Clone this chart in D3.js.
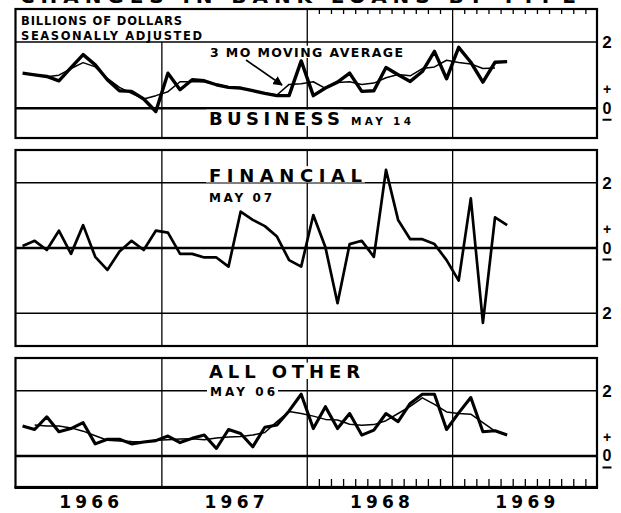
<!DOCTYPE html>
<html>
<head>
<meta charset="utf-8">
<script src="https://cdn.jsdelivr.net/npm/d3@7"></script>
<style>
  body { margin: 0; background: #fff; }
  text { font-family: "DejaVu Sans", "Liberation Sans", sans-serif; font-weight: bold; fill: #000; }
  .num { font-family: "Liberation Sans", "DejaVu Sans", sans-serif; }
</style>
</head>
<body>
<svg id="chart" width="621" height="513"></svg>
<script>
// monthly values, Jan 1966 .. May 1969 (billions of dollars, seasonally adjusted)
var years = ["1966", "1967", "1968", "1969"];

var business = [1.06, 1.01, 0.96, 0.83, 1.23, 1.62, 1.31, 0.86, 0.53, 0.51,
                0.28, -0.10, 1.06, 0.56, 0.86, 0.83, 0.71, 0.63, 0.61, 0.53,
                0.45, 0.38, 0.38, 1.43, 0.38, 0.61, 0.79, 1.06, 0.51, 0.53,
                1.23, 1.01, 0.81, 1.11, 1.72, 0.89, 1.84, 1.39, 0.79, 1.39, 1.41];

var businessAvg = [null, 1.02, 0.95, 1.00, 1.20, 1.38, 1.25, 0.90, 0.63, 0.45,
                   0.28, 0.38, 0.50, 0.80, 0.80, 0.80, 0.72, 0.65, 0.60, 0.53,
                   0.46, 0.40, 0.72, 0.74, 0.80, 0.60, 0.78, 0.80, 0.72, 0.76,
                   0.92, 1.02, 0.98, 1.20, 1.25, 1.45, 1.38, 1.34, 1.20, 1.22, null];

var financial = [0.06, 0.22, -0.06, 0.53, -0.18, 0.70, -0.27, -0.67, -0.11, 0.22,
                 -0.06, 0.53, 0.47, -0.18, -0.18, -0.29, -0.29, -0.57, 1.11, 0.86,
                 0.67, 0.35, -0.37, -0.57, 1.01, 0.02, -1.69, 0.12, 0.22, -0.27,
                 2.39, 0.86, 0.27, 0.27, 0.12, -0.37, -1.00, 1.52, -2.29, 0.94, 0.70];

var allOther = [0.92, 0.81, 1.20, 0.74, 0.84, 1.02, 0.37, 0.51, 0.51, 0.37,
                0.43, 0.47, 0.61, 0.41, 0.54, 0.64, 0.23, 0.81, 0.69, 0.28,
                0.88, 0.95, 1.38, 1.89, 0.84, 1.51, 0.84, 1.30, 0.64, 0.79,
                1.30, 1.05, 1.61, 1.89, 1.89, 0.81, 1.32, 1.79, 0.74, 0.77, 0.64];

var allOtherAvg = [null, 0.95, 0.92, 0.92, 0.86, 0.76, 0.62, 0.48, 0.46, 0.44,
                   0.43, 0.48, 0.50, 0.52, 0.53, 0.50, 0.55, 0.58, 0.60, 0.64,
                   0.72, 1.05, 1.36, 1.30, 1.22, 1.12, 1.10, 0.97, 0.94, 0.96,
                   1.08, 1.30, 1.52, 1.78, 1.58, 1.35, 1.30, 1.28, 1.02, 0.76, null];

var svg = d3.select("#chart");

// months since Jan 1966
var x = d3.scaleLinear().domain([0, 48]).range([16.5, 598]);
var L = 15.5, R = 597;

var panels = [
  {top: 9,   bottom: 138, domain: [-0.9, 3],  grid: [2, 0],     labels: [2],     main: business,  avg: businessAvg, w: 3.4},
  {top: 150, bottom: 346, domain: [-3, 3],    grid: [2, 0, -2], labels: [2, -2], main: financial, avg: null,        w: 2.7},
  {top: 358, bottom: 487, domain: [-0.95, 3], grid: [2, 0],     labels: [2],     main: allOther,  avg: allOtherAvg, w: 3.1}
];

// cut-off title at the very top
svg.append("text")
  .attr("x", 20).attr("y", 2.5)
  .attr("textLength", 556).attr("lengthAdjust", "spacing")
  .style("font-size", "20px")
  .text("CHANGES IN BANK LOANS BY TYPE");

panels.forEach(function(p, pi) {
  var y = d3.scaleLinear().domain(p.domain).range([p.bottom, p.top]);
  p.y = y;
  var g = svg.append("g");

  // horizontal grid
  p.grid.forEach(function(v) {
    g.append("line")
      .attr("x1", L).attr("x2", R)
      .attr("y1", y(v)).attr("y2", y(v))
      .attr("stroke", "#000")
      .attr("stroke-width", v === 0 ? 2.4 : 1.5);
  });

  // year dividers
  [12, 24, 36].forEach(function(m) {
    var y1 = p.top;
    if (pi === 0 && m === 12) y1 = y(2);
    g.append("line")
      .attr("x1", x(m)).attr("x2", x(m))
      .attr("y1", y1).attr("y2", p.bottom)
      .attr("stroke", "#000").attr("stroke-width", 1.3);
  });

  // frame
  g.append("rect")
    .attr("x", L).attr("y", p.top)
    .attr("width", R - L).attr("height", p.bottom - p.top)
    .attr("fill", "none").attr("stroke", "#000").attr("stroke-width", 2.2);

  // right hand scale labels
  p.labels.forEach(function(v) {
    g.append("text").attr("class", "num")
      .attr("x", 607).attr("y", y(v) + 6)
      .attr("text-anchor", "middle")
      .style("font-size", "17px")
      .text("2");
  });
  var y0 = y(0);
  g.append("text").attr("class", "num").attr("text-anchor", "middle")
    .attr("x", 607).attr("y", y0 - 14).style("font-size", "14px").text("+");
  g.append("text").attr("class", "num").attr("text-anchor", "middle")
    .attr("x", 607).attr("y", y0 + 5.5).style("font-size", "16px").text("0");
  g.append("rect").attr("x", 602.5).attr("y", y0 + 10.5).attr("width", 9).attr("height", 2).attr("fill", "#000");
});

// monthly ticks 1968-1969 on top of first panel and bottom of last
var tickMonths = d3.range(25, 48).filter(function(m) { return m !== 36; });
svg.append("g").selectAll("line").data(tickMonths).enter().append("line")
  .attr("x1", function(d) { return x(d); }).attr("x2", function(d) { return x(d); })
  .attr("y1", panels[0].top).attr("y2", panels[0].top + 5)
  .attr("stroke", "#000").attr("stroke-width", 1.3);
svg.append("g").selectAll("line").data(tickMonths).enter().append("line")
  .attr("x1", function(d) { return x(d); }).attr("x2", function(d) { return x(d); })
  .attr("y1", panels[2].bottom - 8).attr("y2", panels[2].bottom)
  .attr("stroke", "#000").attr("stroke-width", 1.3);
svg.append("line")
  .attr("x1", L - 1).attr("x2", R + 1)
  .attr("y1", panels[2].bottom + 0.5).attr("y2", panels[2].bottom + 0.5)
  .attr("stroke", "#000").attr("stroke-width", 3.2);

// labels with white backing to mask grid
function label(t, x0, base, w, size, pad) {
  var h = size * 0.74;
  if (pad !== false) {
    svg.append("rect")
      .attr("x", x0 - 3).attr("y", base - h - 2)
      .attr("width", w + 6).attr("height", h + 3)
      .attr("fill", "#fff");
  }
  svg.append("text")
    .attr("x", x0).attr("y", base)
    .attr("textLength", w).attr("lengthAdjust", "spacing")
    .style("font-size", size + "px")
    .text(t);
}

label("BILLIONS OF DOLLARS", 21, 25, 161, 11.5, false);
label("SEASONALLY ADJUSTED", 21, 39.5, 181, 11.5, false);
label("3 MO  MOVING  AVERAGE", 210, 57, 193, 12.5);
label("BUSINESS", 209, 125, 131, 18);
label("MAY 14", 351, 125, 60, 10.5);
label("FINANCIAL", 209, 181.5, 153, 18);
label("MAY 07", 209, 202, 63, 12);
label("ALL OTHER", 209, 378, 151, 18);
label("MAY 06", 210, 396, 65, 12);

// arrow for the moving average label
svg.append("defs").append("marker")
  .attr("id", "head").attr("viewBox", "0 0 10 10")
  .attr("refX", 9).attr("refY", 5)
  .attr("markerWidth", 6).attr("markerHeight", 6)
  .attr("orient", "auto")
  .append("path").attr("d", "M0,0L10,5L0,10z").attr("fill", "#000");
svg.append("line")
  .attr("x1", 246).attr("y1", 60).attr("x2", 282).attr("y2", 85)
  .attr("stroke", "#000").attr("stroke-width", 1.6)
  .attr("marker-end", "url(#head)");

// series
panels.forEach(function(p) {
  var line = d3.line()
    .defined(function(d) { return d != null; })
    .x(function(d, i) { return x(i + 0.5); })
    .y(function(d) { return p.y(d); });
  if (p.avg) {
    svg.append("path").datum(p.avg)
      .attr("d", line)
      .attr("fill", "none").attr("stroke", "#000")
      .attr("stroke-width", 1.5).attr("stroke-linejoin", "round");
  }
  svg.append("path").datum(p.main)
    .attr("d", line)
    .attr("fill", "none").attr("stroke", "#000")
    .attr("stroke-width", p.w).attr("stroke-linejoin", "round");
});

// year labels
svg.append("g").selectAll("text").data(years).enter().append("text")
  .attr("x", function(d, i) { return x(i * 12 + 6); })
  .attr("y", 508)
  .attr("text-anchor", "middle")
  .attr("textLength", 60).attr("lengthAdjust", "spacing")
  .style("font-size", "17px")
  .text(function(d) { return d; });
</script>
</body>
</html>
